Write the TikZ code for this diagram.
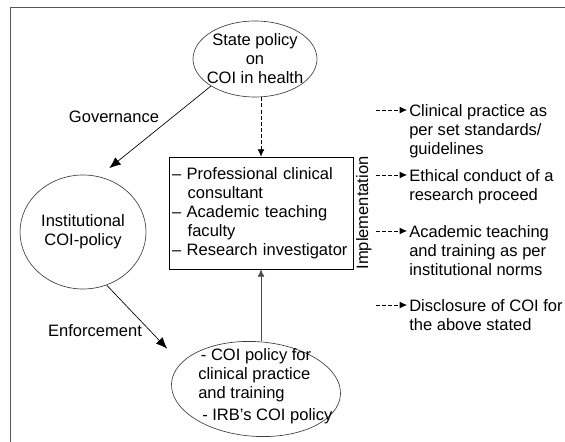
\documentclass[tikz,border=0pt]{standalone}
\usepackage{fontspec}
\setmainfont{Liberation Sans}
\usetikzlibrary{arrows.meta,shapes.geometric}

\begin{document}
\begin{tikzpicture}[x=0.75pt,y=-0.75pt,
  every node/.style={font=\fontsize{12.4}{14.3}\selectfont},
  >={Latex[length=5.5pt,width=5pt]},
  oval/.style={draw=black!75,ellipse,line width=0.5pt,inner sep=-8pt},
  heavytip/.style={-{Latex[length=8.5pt,width=7pt]},line width=0.5pt},
  dashline/.style={dash pattern=on 3pt off 1.6pt,line width=0.5pt},
  outcome/.style={align=left,anchor=north west,inner sep=1.5pt}]
\useasboundingbox (0,0) rectangle (565,442);
% frame, only top and left edges
\draw[black!65,line width=1.2pt] (10.5,442) -- (10.5,7.5) -- (565,7.5);

\node[oval,minimum width=93pt,minimum height=57pt,align=center] (state) at (255,59) {State policy\\on\\COI in health};
\node[oval,minimum width=94.5pt,minimum height=85.5pt,align=center] (inst) at (83,232) {Institutional\\COI-policy};
% lower oval, slightly tilted, its text set a little off centre
\node[oval,rotate=-4,minimum width=127pt,minimum height=71pt] (coi) at (256,389) {};
\node[align=left,anchor=west,inner sep=0pt] (coitext) at (198,386)
 {\hspace*{2pt}- COI policy for\\clinical practice\\and training\\[2pt]\hspace*{3pt}- IRB's COI policy};
\node[draw,line width=0.5pt,align=left,text width=133.5pt,inner xsep=2.25pt,minimum height=84pt] (roles) at (261,213)
 {-- Professional clinical\\\hspace*{0.95em}consultant\\-- Academic teaching\\\hspace*{0.95em}faculty\\-- Research investigator};
\node[rotate=90,anchor=north,inner sep=2pt] (impl) at (roles.east) {Implementation};
\node (gov) at (114,117) {Governance};
\node (enf) at (95,331) {Enforcement};

\draw[heavytip,shorten >=10pt] (state.south west) -- (inst.74);
\draw[heavytip,shorten >=15pt] (inst.-66) -- (coi.165);
\draw[->,dashline] (state.south -| roles.north) -- (roles.north);
\draw[->,black!70,line width=0.5pt] (coi.north -| roles.south) -- (roles.south);

% outcomes on the right
\coordinate (o1) at (376,110);
\coordinate (o2) at (376,175);
\coordinate (o3) at (376,231);
\coordinate (o4) at (376,305);
\node[outcome] (out1) at (407,102) {Clinical practice as\\per set standards/\\guidelines};
\node[outcome] (out2) at (407,167) {Ethical conduct of a\\research proceed};
\node[outcome] (out3) at (407,223) {Academic teaching\\and training as per\\institutional norms};
\node[outcome] (out4) at (407,297) {Disclosure of COI for\\the above stated};
\draw[->,dashline] (o1) -- (o1 -| out1.west);
\draw[->,dashline] (o2) -- (o2 -| out2.west);
\draw[->,dashline] (o3) -- (o3 -| out3.west);
\draw[->,dashline] (o4) -- (o4 -| out4.west);
\end{tikzpicture}
\end{document}
